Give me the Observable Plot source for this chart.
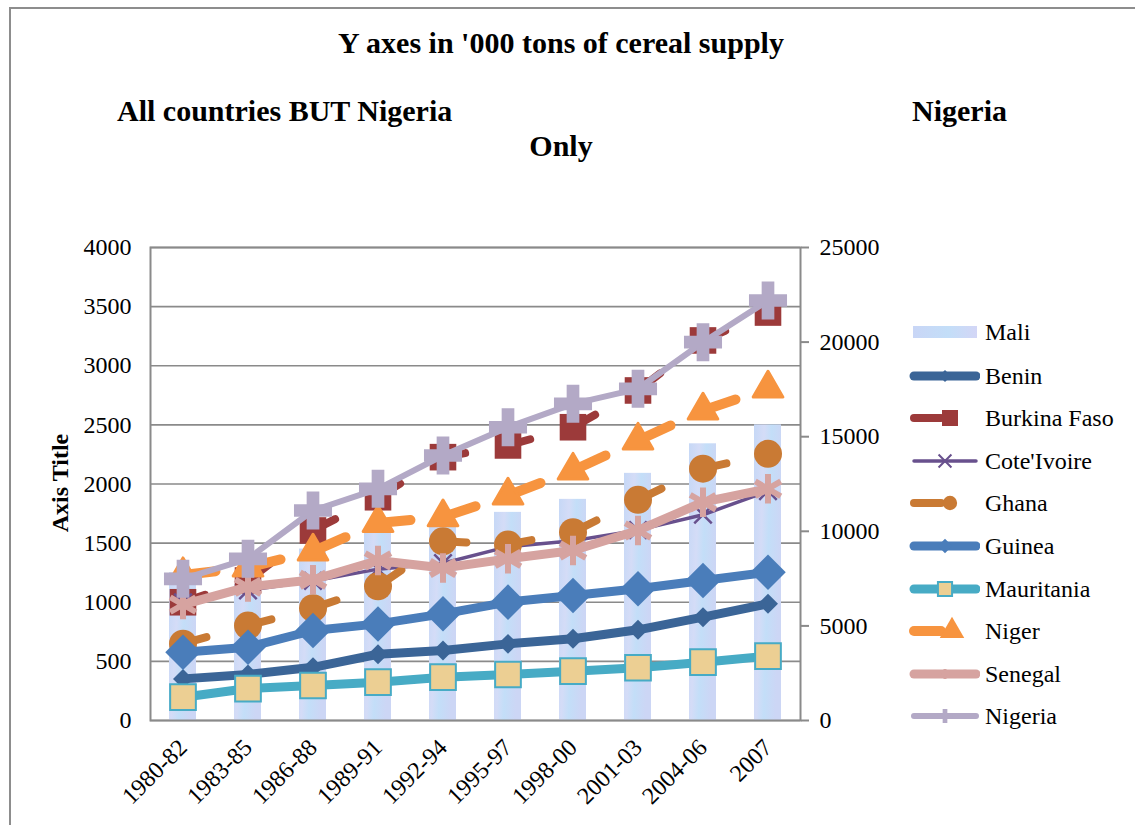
<!DOCTYPE html>
<html><head><meta charset="utf-8">
<script src="https://cdn.jsdelivr.net/npm/d3@7"></script>
<script src="https://cdn.jsdelivr.net/npm/@observablehq/plot@0.6"></script>
<style>
body{margin:0;background:#fff;font-family:"Liberation Serif","Times New Roman",serif;}
#wrap{position:relative;width:1135px;height:825px;overflow:hidden;background:#fff;}
#frame{position:absolute;left:9px;top:7px;width:1200px;height:900px;border:2px solid #8d8d8d;}
#chart{position:absolute;left:0;top:0;}
#chart svg text{font-family:"Liberation Serif","Times New Roman",serif !important;}
.t{position:absolute;font-weight:bold;font-size:30px;line-height:30px;white-space:nowrap;color:#000;}
.lg{position:absolute;left:905px;height:30px;display:flex;align-items:center;font-size:24px;color:#000;white-space:nowrap;}
.lg svg{margin-right:5px;}
</style></head><body>
<div id="wrap">
<div id="frame"></div>
<div id="chart"></div>
<div class="t" style="left:0;width:1122px;text-align:center;top:28px">Y axes in '000 tons of cereal supply</div>
<div class="t" style="left:117px;top:96px">All countries BUT Nigeria</div>
<div class="t" style="left:912px;top:96px">Nigeria</div>
<div class="t" style="left:0;width:1122px;text-align:center;top:131px">Only</div>
<div class="t" style="left:60px;top:483px;font-size:24px;line-height:24px;transform:translate(-50%,-50%) rotate(-90deg)">Axis Title</div>
<div id="legend"></div>
</div>
<script>
// ---- data ----
const periods = ["1980-82","1983-85","1986-88","1989-91","1992-94","1995-97","1998-00","2001-03","2004-06","2007"];
const mali       = [1250, 1150, 1450, 1620, 1680, 1760, 1870, 2090, 2340, 2500];
const benin      = [352, 389, 450, 560, 592, 648, 691, 767, 874, 987];
const burkina    = [1000, 1184, 1607, 1888, 2227, 2326, 2480, 2791, 3214, 3450];
const coteIvoire = [1000, 1100, 1180, 1280, 1330, 1470, 1520, 1610, 1740, 1940];
const ghana      = [650, 803, 950, 1135, 1515, 1488, 1593, 1866, 2130, 2255];
const guinea     = [578, 620, 761, 817, 902, 1001, 1057, 1114, 1184, 1254];
const mauritania = [197, 270, 296, 324, 366, 389, 417, 446, 493, 544];
const niger      = [1230, 1294, 1430, 1670, 1720, 1903, 2114, 2368, 2622, 2808];
const senegal    = [980, 1130, 1190, 1353, 1290, 1367, 1438, 1607, 1846, 1959];
const nigeria    = [7489, 8546, 11099, 12245, 14005, 15500, 16738, 17531, 19994, 22197]; // right axis
const leftTicks  = [0, 500, 1000, 1500, 2000, 2500, 3000, 3500, 4000];
const rightTicks = [0, 5000, 10000, 15000, 20000, 25000];
const leftMax = 4000, rightMax = 25000;

const rows = vals => vals.map((v, i) => ({period: periods[i], v}));
const pairs = vals => vals.slice(1).map((v, i) => ({p1: periods[i], p2: periods[i + 1], v1: vals[i], v2: v}));
const toLeft = v => v * leftMax / rightMax;

const C = {
  benin: "#3b6597", burkina: "#9c3a3a", ci: "#68508d", ghana: "#c97a34",
  guinea: "#4a7dba", maurLine: "#47abc5", maurFill: "#eccf93", niger: "#f7943f",
  senegal: "#d6a3a0", nigeria: "#b3a9c6"
};

const lineSeries = (vals, stroke, w) => Plot.line(rows(vals), {x: "period", y: "v", stroke, strokeWidth: w});
const dashSeries = (vals, stroke, w) => Plot.link(pairs(vals), {x1: "p1", x2: "p2", y1: "v1", y2: "v2", stroke, strokeWidth: w, strokeLinecap: "round"});

const plot = Plot.plot({
  width: 1135, height: 825,
  marginLeft: 150, marginRight: 335, marginTop: 247, marginBottom: 105,
  style: {fontFamily: "'Liberation Serif', 'Times New Roman', serif", fontSize: "24px", background: "transparent", color: "#000", overflow: "visible"},
  x: {type: "band", domain: periods, paddingInner: 0.585, paddingOuter: 0.2925, label: null},
  y: {domain: [0, leftMax], label: null},
  marks: [
    Plot.gridY(leftTicks, {stroke: "#8a8a8a", strokeOpacity: 1, strokeWidth: 1.6}),
    Plot.barY(rows(mali), {x: "period", y: "v", fill: "url(#maliGrad)"}),
    Plot.frame({stroke: "#8a8a8a", strokeWidth: 2}),
    // Benin
    lineSeries(benin, C.benin, 9),
    Plot.dot(rows(benin), {x: "period", y: "v", symbol: "diamond2", r: 9, fill: C.benin, stroke: "none"}),
    // Burkina Faso
    dashSeries(burkina, C.burkina, 8),
    Plot.dot(rows(burkina), {x: "period", y: "v", symbol: "square", r: 15, fill: C.burkina, stroke: "none"}),
    // Cote d'Ivoire
    lineSeries(coteIvoire, C.ci, 3.5),
    Plot.dot(rows(coteIvoire), {x: "period", y: "v", symbol: "times", r: 8, stroke: C.ci, strokeWidth: 2.5, fill: "none"}),
    // Ghana
    dashSeries(ghana, C.ghana, 8),
    Plot.dot(rows(ghana), {x: "period", y: "v", symbol: "circle", r: 14, fill: C.ghana, stroke: "none"}),
    // Guinea
    lineSeries(guinea, C.guinea, 9),
    Plot.dot(rows(guinea), {x: "period", y: "v", symbol: "diamond2", r: 16, fill: C.guinea, stroke: "none"}),
    // Mauritania
    lineSeries(mauritania, C.maurLine, 9),
    Plot.dot(rows(mauritania), {x: "period", y: "v", symbol: "square", r: 14.5, fill: C.maurFill, stroke: C.maurLine, strokeWidth: 2}),
    // Niger
    dashSeries(niger, C.niger, 10),
    Plot.dot(rows(niger), {x: "period", y: "v", symbol: "triangle", r: 11, fill: C.niger, stroke: C.niger, strokeWidth: 3, strokeLinejoin: "round"}),
    // Senegal
    lineSeries(senegal, C.senegal, 9),
    Plot.dot(rows(senegal), {x: "period", y: "v", symbol: "asterisk", r: 14, stroke: C.senegal, strokeWidth: 6, fill: "none"}),
    // Nigeria (secondary axis)
    Plot.line(nigeria.map((v, i) => ({period: periods[i], v: toLeft(v)})), {x: "period", y: "v", stroke: C.nigeria, strokeWidth: 6}),
    Plot.dot(nigeria.map((v, i) => ({period: periods[i], v: toLeft(v)})), {x: "period", y: "v", symbol: "cross", r: 16, fill: C.nigeria, stroke: "none"}),
    // axes
    Plot.axisY(leftTicks, {anchor: "left", tickSize: 0, tickPadding: 19, tickFormat: d => String(d), fill: "#000", label: null}),
    Plot.axisY(rightTicks.map(toLeft), {anchor: "right", tickSize: 8, tickPadding: 11, stroke: "#8a8a8a", strokeWidth: 2, tickFormat: d => String(Math.round(d * rightMax / leftMax)), fill: "#000", label: null}),
    Plot.axisX({tickRotate: -45, tickSize: 0, tickPadding: 23, fill: "#000", label: null})
  ]
});

// gradient for the Mali bars
const svg = d3.select(plot);
svg.attr("font-family", "'Liberation Serif', 'Times New Roman', serif");
svg.selectAll("text").style("font-family", "'Liberation Serif', 'Times New Roman', serif");
const defs = svg.insert("defs", ":first-child");
const grad = defs.append("linearGradient").attr("id", "maliGrad").attr("x1", 0).attr("x2", 1).attr("y1", 0).attr("y2", 0.3);
[["0%", "#c6d8f6"], ["35%", "#d4dcf7"], ["60%", "#c3def8"], ["100%", "#ccd6f5"]].forEach(([o, c]) => grad.append("stop").attr("offset", o).attr("stop-color", c));
document.getElementById("chart").appendChild(plot);

// dashed look: each segment shows only its first part (fraction of its own length)
const dashFrac = {[C.niger]: 0.5, [C.ghana]: 0.36, [C.burkina]: 0.34};
svg.selectAll('g[aria-label="link"]').each(function () {
  const f = dashFrac[this.getAttribute("stroke")] || 0.5;
  d3.select(this).selectAll("path").each(function () {
    const L = this.getTotalLength();
    d3.select(this).attr("stroke-dasharray", `${(L * f).toFixed(1)} ${(L * 2).toFixed(1)}`);
  });
});

// ---- legend ----
const legendItems = [
  {name: "Mali", type: "bar"},
  {name: "Benin", color: C.benin, w: 9, sym: d3.symbolDiamond2, size: 90, fill: C.benin},
  {name: "Burkina Faso", color: C.burkina, w: 8, sym: d3.symbolSquare, size: 256, fill: C.burkina, dash: true, mx: 45},
  {name: "Cote'Ivoire", color: C.ci, w: 3.5, sym: d3.symbolTimes, size: 110, stroke: C.ci},
  {name: "Ghana", color: C.ghana, w: 8, sym: d3.symbolCircle, size: 160, fill: C.ghana, dash: true, mx: 45},
  {name: "Guinea", color: C.guinea, w: 9, sym: d3.symbolDiamond2, size: 130, fill: C.guinea},
  {name: "Mauritania", color: C.maurLine, w: 9, sym: d3.symbolSquare, size: 200, fill: C.maurFill, stroke: C.maurLine},
  {name: "Niger", color: C.niger, w: 10, sym: d3.symbolTriangle, size: 260, fill: C.niger, dash: true, mx: 47},
  {name: "Senegal", color: C.senegal, w: 9, sym: d3.symbolAsterisk, size: 70, stroke: C.senegal},
  {name: "Nigeria", color: C.nigeria, w: 6, sym: d3.symbolCross, size: 110, fill: C.nigeria}
];
const legendY = [332, 376, 418, 461, 503, 546, 589, 631, 674, 716];
const legend = d3.select("#legend");
legendItems.forEach((it, i) => {
  const div = legend.append("div").attr("class", "lg").style("top", (legendY[i] - 15) + "px");
  const s = div.append("svg").attr("width", 75).attr("height", 30);
  if (it.type === "bar") {
    s.append("defs").html('<linearGradient id="maliGradL" x1="0" x2="1"><stop offset="0%" stop-color="#c9d6f6"/><stop offset="55%" stop-color="#c3def8"/><stop offset="100%" stop-color="#d3d6f6"/></linearGradient>');
    s.append("rect").attr("x", 8).attr("y", 9).attr("width", 64).attr("height", 12).attr("fill", "url(#maliGradL)");
  } else {
    s.append("line").attr("x1", 9).attr("x2", it.dash ? 36 : 71).attr("y1", 15).attr("y2", 15)
      .attr("stroke", it.color).attr("stroke-width", it.w).attr("stroke-linecap", "round");
    s.append("path").attr("d", d3.symbol(it.sym, it.size)()).attr("transform", `translate(${it.mx || 40},15)`)
      .attr("fill", it.fill || "none").attr("stroke", it.stroke || "none").attr("stroke-width", it.stroke ? (it.sym === d3.symbolAsterisk ? 3 : 2) : 0);
  }
  div.append("span").text(it.name);
});
</script>
</body></html>
